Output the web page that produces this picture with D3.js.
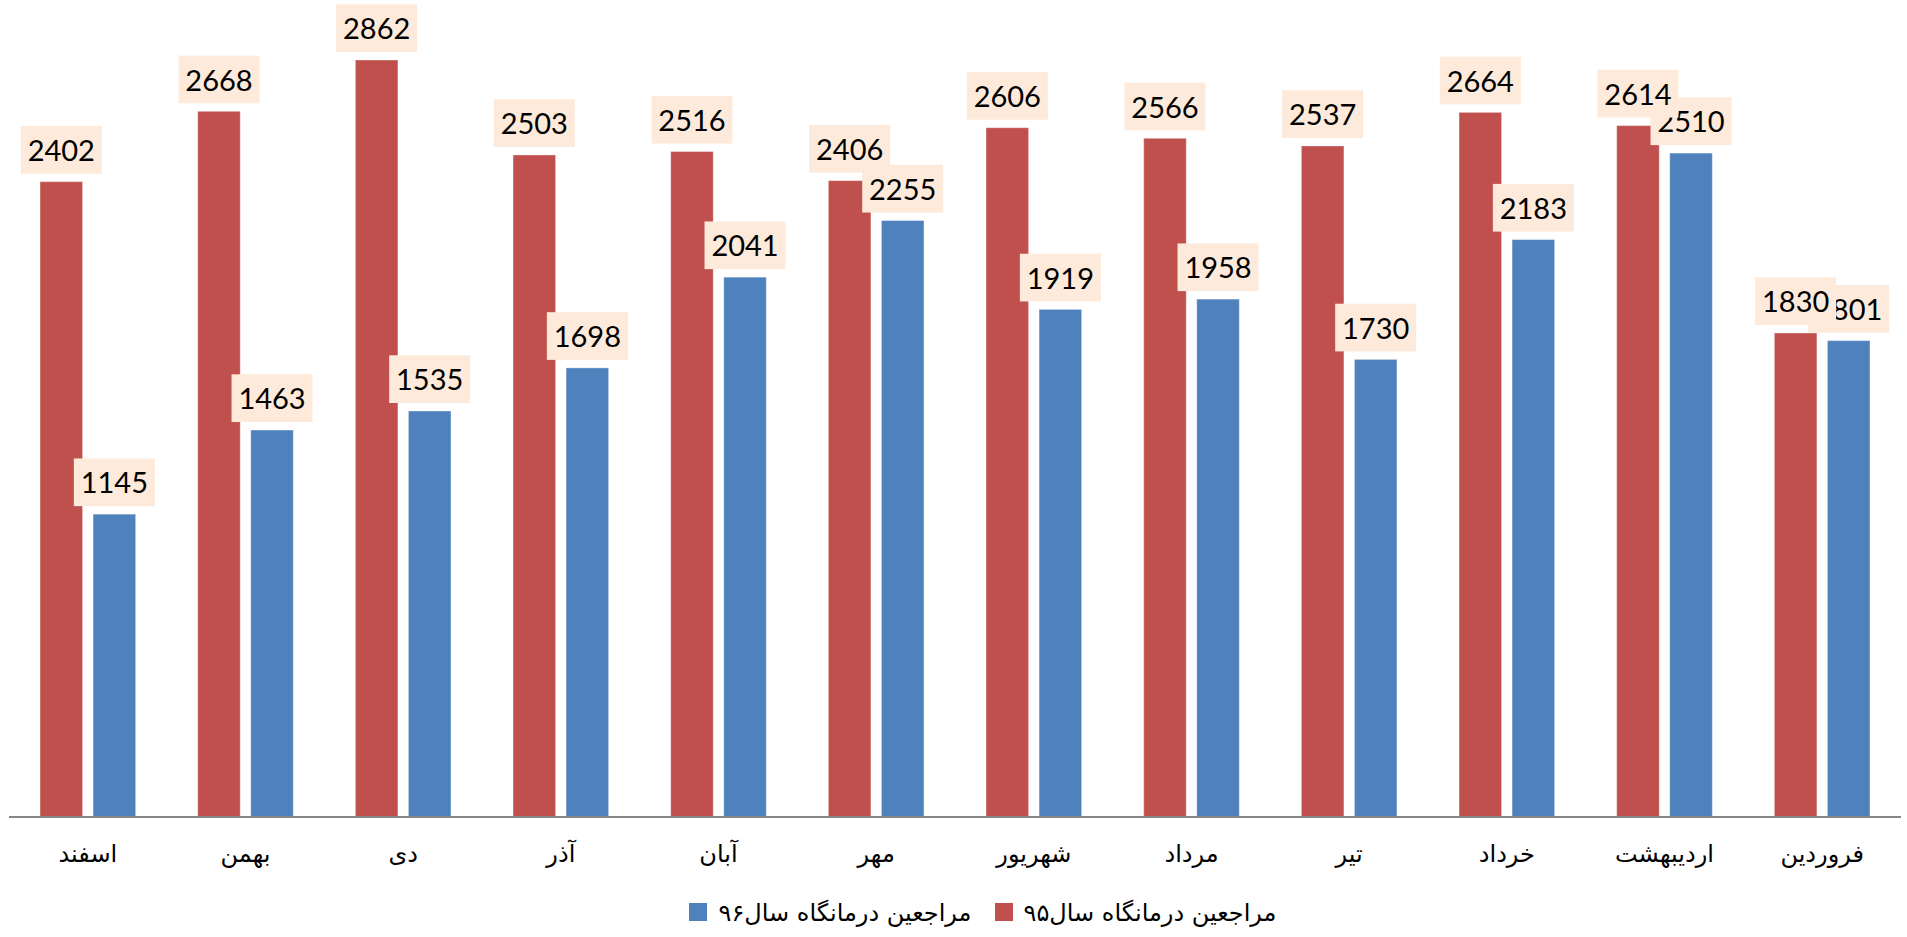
<!DOCTYPE html>
<html>
<head>
<meta charset="utf-8">
<script src="https://cdn.jsdelivr.net/npm/d3@7"></script>
<style>
  body { margin: 0; background: #fff; }
  svg { display: block; }
</style>
</head>
<body>
<div id="chart"></div>
<script>
// months, shown left to right (the original axis runs right to left)
var months = ["اسفند", "بهمن", "دی", "آذر", "آبان", "مهر", "شهریور", "مرداد", "تیر", "خرداد", "اردیبهشت", "فروردین"];
var seriesNames = ["مراجعین درمانگاه سال۹۵", "مراجعین درمانگاه سال۹۶"];
var values95 = [2402, 2668, 2862, 2503, 2516, 2406, 2606, 2566, 2537, 2664, 2614, 1830];
var values96 = [1145, 1463, 1535, 1698, 2041, 2255, 1919, 1958, 1730, 2183, 2510, 1801];
var colors = ["#C0504D", "#4F81BD"];

var width = 1907, height = 937;
var svg = d3.select("#chart").append("svg").attr("width", width).attr("height", height);

var x0 = d3.scaleBand().domain(months).range([9, 1901]);
var x1 = d3.scaleBand().domain([0, 1]).range([0, x0.bandwidth()])
    .paddingInner(0.198).paddingOuter(0.585);
var y = d3.scaleLinear().domain([0, 3000]).range([817, 23.5]);

var data = months.map(function(m, i) {
  return { month: m, vals: [values95[i], values96[i]] };
});

var groups = svg.append("g").selectAll("g").data(data).enter().append("g")
    .attr("transform", function(d) { return "translate(" + x0(d.month) + ",0)"; });

groups.selectAll("rect").data(function(d) { return d.vals; }).enter().append("rect")
    .attr("x", function(d, i) { return x1(i); })
    .attr("y", function(d) { return y(d); })
    .attr("width", x1.bandwidth())
    .attr("height", function(d) { return y(0) - y(d); })
    .attr("fill", function(d, i) { return colors[i]; })
    .attr("stroke", "rgba(255,255,255,0.35)")
    .attr("stroke-width", 1);

// axis
var xAxis = svg.append("g")
    .attr("transform", "translate(0," + y(0) + ")")
    .call(d3.axisBottom(x0).tickSize(0).tickPadding(28));
xAxis.select(".domain").attr("stroke", "#868686").attr("stroke-width", 2)
    .attr("d", "M9,0H1901");
xAxis.selectAll("text")
    .attr("font-family", "'DejaVu Sans', Arial, sans-serif")
    .attr("font-size", "24px")
    .attr("fill", "#000");

// data labels: blue series first, red drawn on top
var labelLayer = svg.append("g");
[1, 0].forEach(function(s) {
  data.forEach(function(d) {
    var cx = x0(d.month) + x1(s) + x1.bandwidth() / 2;
    var top = y(d.vals[s]) - 8 - 47.7;
    var lg = labelLayer.append("g");
    lg.append("rect")
      .attr("x", cx - 40.5).attr("y", top)
      .attr("width", 81).attr("height", 47.7)
      .attr("fill", "#FDEADA");
    lg.append("text")
      .attr("x", cx).attr("y", top + 35)
      .attr("text-anchor", "middle")
      .attr("font-family", "Lato, 'Open Sans', sans-serif")
      .attr("font-size", "29px")
      .attr("fill", "#000")
      .text(d.vals[s]);
  });
});

// legend (right to left: square on the right of each text)
var legend = svg.append("g").attr("transform", "translate(0,912)");
var legendItems = [
  { name: seriesNames[0], color: colors[0], sq: 995, tx: 1150 },
  { name: seriesNames[1], color: colors[1], sq: 689, tx: 845 }
];
legendItems.forEach(function(it) {
  legend.append("rect")
    .attr("x", it.sq).attr("y", -9).attr("width", 18).attr("height", 18)
    .attr("fill", it.color);
  legend.append("text")
    .attr("x", it.tx).attr("y", 9)
    .attr("text-anchor", "middle")
    .attr("font-family", "'DejaVu Sans', Arial, sans-serif")
    .attr("font-size", "24px")
    .attr("fill", "#000")
    .text(it.name);
});
</script>
</body>
</html>
